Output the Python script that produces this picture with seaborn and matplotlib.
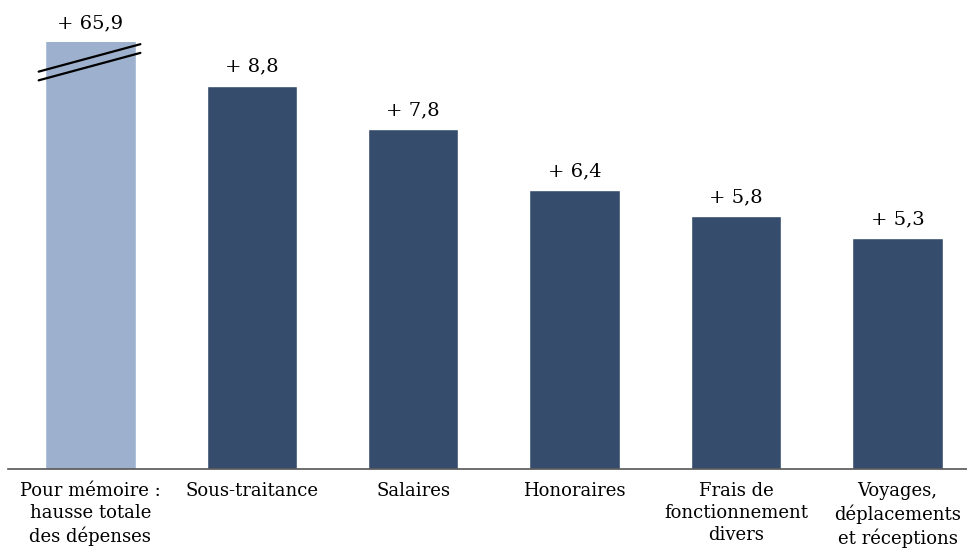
import matplotlib
matplotlib.use("Agg")
import matplotlib.pyplot as plt
import seaborn as sns
import pandas as pd

categories = ["Pour mémoire :\nhausse totale\ndes dépenses", "Sous-traitance", "Salaires",
              "Honoraires", "Frais de\nfonctionnement\ndivers", "Voyages,\ndéplacements\net réceptions"]
values = [65.9, 8.8, 7.8, 6.4, 5.8, 5.3]
labels = ["+ 65,9", "+ 8,8", "+ 7,8", "+ 6,4", "+ 5,8", "+ 5,3"]
colors = ["#9DB1CF", "#364C6C", "#364C6C", "#364C6C", "#364C6C", "#364C6C"]

sns.set_theme(style="white")
plt.rcParams['font.family'] = ['DejaVu Serif']

df = pd.DataFrame({"cat": categories, "val": values})
fig = plt.figure(figsize=(9.67, 5.51), dpi=100)
ax = fig.add_axes([8/967, (551-469)/551, 1 - 8/967, (469-42)/551])
sns.barplot(data=df, x="cat", y="val", hue="cat", palette=colors, legend=False,
            width=0.56, saturation=1, ax=ax)
ymax = 9.8
ax.set_ylim(0, ymax)
ax.set_xlim(-0.51, 5.43)
for s in ["top", "right", "left"]:
    ax.spines[s].set_visible(False)
ax.spines["bottom"].set_color("#555555")
ax.spines["bottom"].set_linewidth(1.2)
ax.set_yticks([])
ax.set_xlabel("")
ax.set_ylabel("")
ax.tick_params(axis="x", length=0, pad=9)
for t in ax.get_xticklabels():
    t.set_fontsize(13)
    t.set_linespacing(1.3)
    t.set_color("black")

for i, (v, lab) in enumerate(zip(values, labels)):
    y = min(v, ymax)
    ax.annotate(lab, (i, y), xytext=(0, 7), textcoords="offset points",
                ha="center", va="bottom", fontsize=14, color="black", annotation_clip=False)

# break marks on the truncated bar
for dy in (0.0, -0.2):
    ax.plot([-0.32, 0.31], [9.12 + dy, 9.75 + dy], color="black", lw=1.6, clip_on=False)

fig.savefig("out.png", dpi=100)
